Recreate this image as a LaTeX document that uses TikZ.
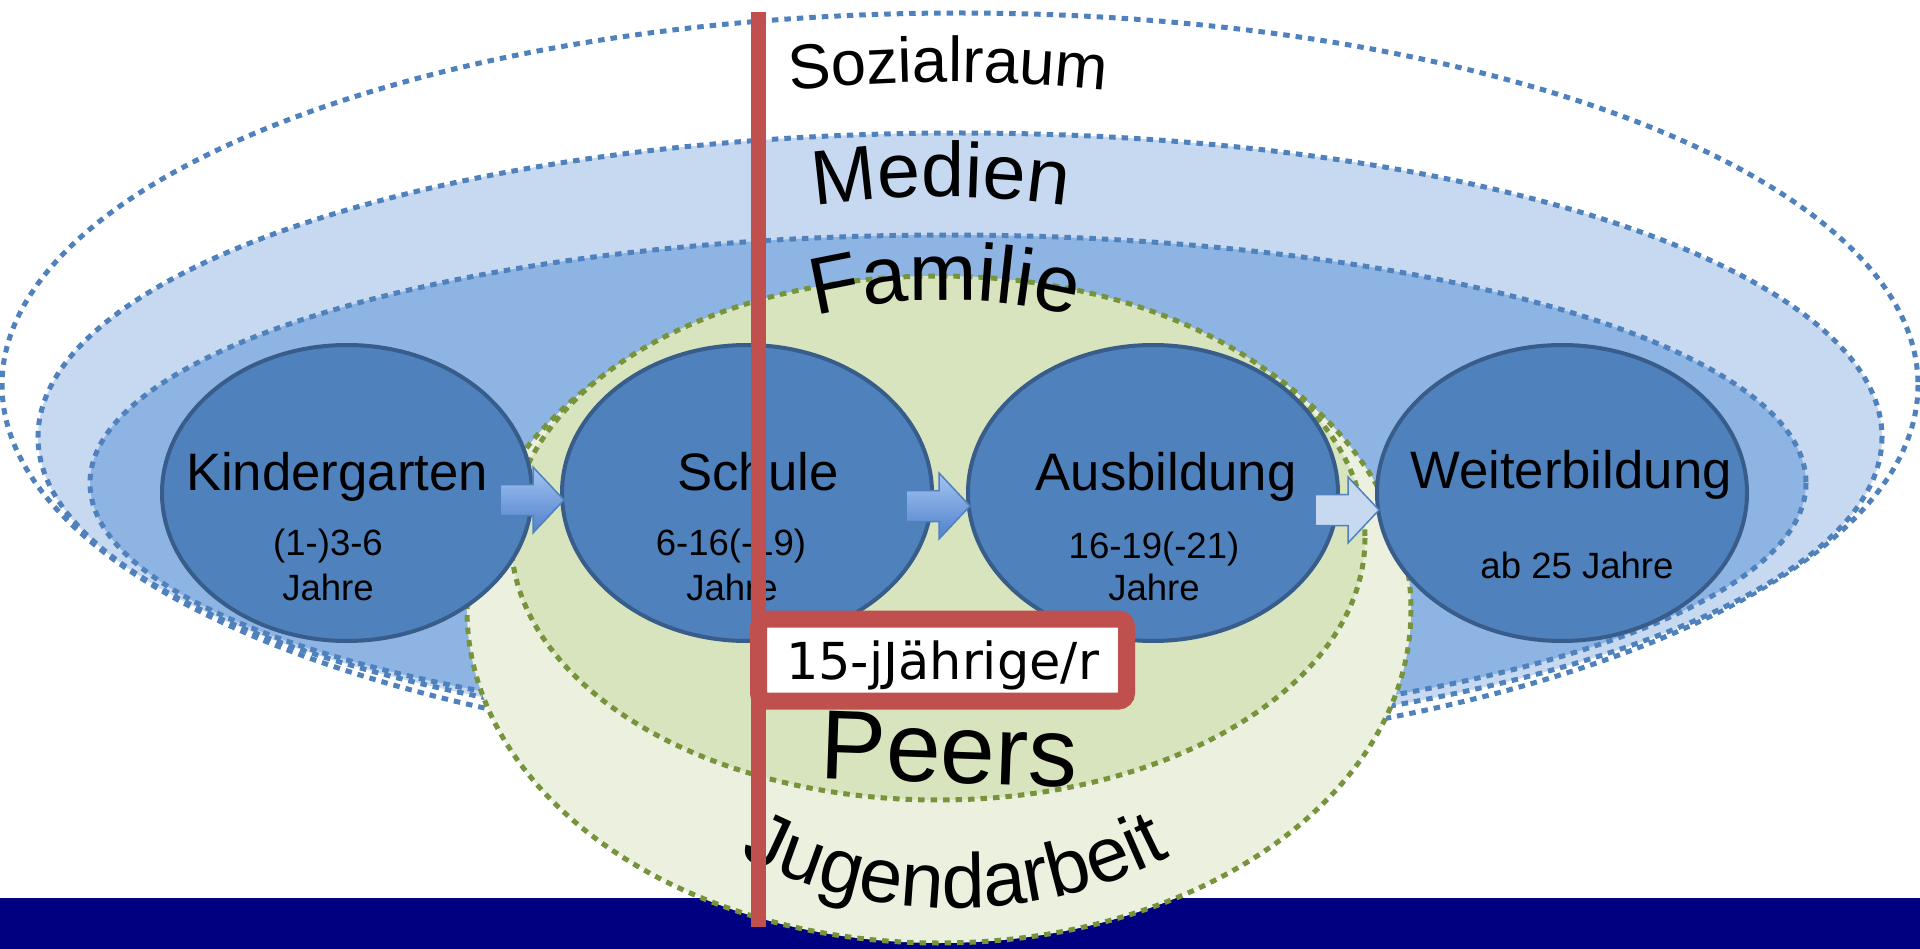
\documentclass[tikz,border=0pt]{standalone}
\usepackage{fontspec}
\setmainfont{Liberation Sans}
\newfontfamily\boxfont{DejaVu Sans}
\usetikzlibrary{calc,shapes.geometric,decorations.text}

\definecolor{ringblue}{RGB}{79,129,189}
\definecolor{medienfill}{RGB}{198,217,241}
\definecolor{familiefill}{RGB}{142,180,227}
\definecolor{stagefill}{RGB}{79,129,189}
\definecolor{stageline}{RGB}{56,93,138}
\definecolor{ringgreen}{RGB}{119,147,60}
\definecolor{peersfill}{RGB}{215,228,189}
\definecolor{jugendfill}{RGB}{235,241,222}
\definecolor{markred}{RGB}{192,80,77}
\definecolor{barnavy}{RGB}{0,0,128}
\definecolor{arrowtop}{RGB}{163,196,242}
\definecolor{arrowbot}{RGB}{79,129,204}

\tikzset{
  ring/.style={line width=0.5mm, dash pattern=on 0.65mm off 0.6mm},
  bluering/.style={ring, draw=ringblue},
  greenring/.style={ring, draw=ringgreen},
  stage/.style={ellipse, draw=stageline, line width=0.4mm, fill=stagefill,
    minimum width=37mm, minimum height=29.6mm, inner sep=0pt},
  stagename/.style={anchor=base, font=\fontsize{15}{18}\selectfont},
  stageage/.style={anchor=base, font=\fontsize{10.4}{12.5}\selectfont},
  flow/.style={top color=arrowtop, bottom color=arrowbot},
  flowpale/.style={fill=medienfill},
  blockarrow/.pic={
    \path[draw=ringblue, line width=0.15mm, pic actions]
      (-6.4mm,-1.55mm) -- (-3.1mm,-1.55mm) -- (-3.1mm,-3.3mm) -- (0,0)
      -- (-3.1mm,3.3mm) -- (-3.1mm,1.55mm) -- (-6.4mm,1.55mm) -- cycle;
  },
  agebox/.style={draw=markred, line width=1.7mm, fill=white, rounded corners=0.8mm,
    minimum width=36.8mm, minimum height=8.2mm, inner sep=0pt,
    text height=5mm, text depth=1.2mm, font=\boxfont\fontsize{14.5}{17}\selectfont},
  peerstext/.style={anchor=base, rotate=-2, font=\fontsize{28}{32}\selectfont},
}

% word art label along an arc
\newcommand\archlabel[3]{%
  \path[decorate, decoration={text along path, text align=center,
    text={|\fontsize{#1}{#1}\selectfont|#3}}] #2;
}

\begin{document}
\begin{tikzpicture}[x=0.1mm, y=-0.1mm]
  \useasboundingbox (0,0) rectangle (1920,949);

  % ====== Rings (Sozialraum, Medien, Familie) ======
  \draw[bluering, fill=white] (960,385) ellipse [x radius=958, y radius=372];
  \draw[bluering, fill=medienfill] (960,437) ellipse [x radius=922, y radius=304];
  \draw[bluering, fill=familiefill] (948,483) ellipse [x radius=858, y radius=248];

  % ====== Bottom bar ======
  \fill[barnavy] (0,898) rectangle (1920,949);

  % ====== Jugendarbeit and Peers ======
  \draw[greenring, fill=jugendfill] (939,610) ellipse [x radius=472, y radius=333];
  \draw[greenring, fill=peersfill] (938,538) ellipse [x radius=427, y radius=262];

  % ====== Ring labels ======
  \archlabel{18}{($(948,1509)+(258:1427)$) arc[start angle=258, end angle=282, radius=1427]}{Sozialraum}
  \archlabel{22}{($(941,1070)+(255:873)$) arc[start angle=255, end angle=285, radius=873]}{Medien}
  \archlabel{23}{($(945,838)+(240:538)$) arc[start angle=240, end angle=300, radius=538]}{Familie}
  \archlabel{22}{($(955,438)+(130:470)$) arc[start angle=130, end angle=50, radius=470]}{Jugendarbeit}
  \node[peerstext] (peers) at (948,783) {Peers};

  % ====== Stages ======
  \node[stage] (kg) at (347,493) {};
  \node[stage] (schule) at (747,493) {};
  \node[stage] (ausb) at (1153,493) {};
  \node[stage] (weiter) at (1562,493) {};

  \node[stagename] at ($(kg)+(-10,-3)$) {Kindergarten};
  \node[stageage] at ($(kg)+(-19,62)$) {(1-)3-6};
  \node[stageage] at ($(kg)+(-19,107)$) {Jahre};

  \node[stagename] at ($(schule)+(11,-3)$) {Schule};
  \node[stageage] at ($(schule)+(-16,62)$) {6-16(-19)};
  \node[stageage] at ($(schule)+(-15,107)$) {Jahre};

  \node[stagename] at ($(ausb)+(13,-3)$) {Ausbildung};
  \node[stageage] at ($(ausb)+(1,65)$) {16-19(-21)};
  \node[stageage] at ($(ausb)+(1,107)$) {Jahre};

  \node[stagename] at ($(weiter)+(9,-5)$) {Weiterbildung};
  \node[stageage] at ($(weiter)+(15,85)$) {ab 25 Jahre};

  % block arrows between the stages
  \pic[flow] at ($(schule.west)+(4,7)$) {blockarrow};
  \pic[flow] at ($(ausb.west)+(4,13)$) {blockarrow};
  \pic[flowpale] at ($(weiter.west)+(4,17)$) {blockarrow};

  % ====== Age marker ======
  \draw[markred, line width=1.5mm] (758,12) -- (758,927);
  \node[agebox, anchor=west] (age) at (750,660) {15-jJährige/r};
\end{tikzpicture}
\end{document}
